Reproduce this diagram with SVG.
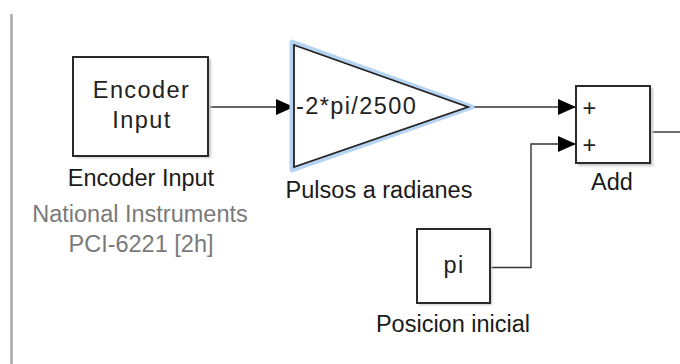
<svg xmlns="http://www.w3.org/2000/svg" width="680" height="364" viewBox="0 0 680 364">
<style>
.lbl{font-family:"Liberation Sans",Arial,sans-serif;font-size:23.5px;fill:#1a1a1a;text-anchor:middle}
.sub{fill:#7a7a7a}
.in{font-family:"Liberation Sans",Arial,sans-serif;font-size:23.5px;fill:#222;letter-spacing:1.4px}
.blk{fill:#fff;stroke:#2a2a2a;stroke-width:2}
.sh{fill:#c8c8c8;stroke:none}
.wire{fill:none;stroke:#333;stroke-width:1.4}
</style>
<defs>
<marker id="ah" markerWidth="18" markerHeight="16" refX="18" refY="8" orient="auto" markerUnits="userSpaceOnUse">
<path d="M0,0 L18,8 L0,16 Z" fill="#000"/>
</marker>
<filter id="blur1"><feGaussianBlur stdDeviation="1"/></filter>
</defs>
<rect x="0" y="0" width="680" height="364" fill="#fff"/>
<g id="frame">
<line x1="11" y1="14" x2="680" y2="14" stroke="#dcdcdc" stroke-width="2.5" filter="url(#blur1)"/>
<line x1="11.5" y1="14" x2="11.5" y2="364" stroke="#a8a8a8" stroke-width="2.5"/>
<line x1="9" y1="16" x2="9" y2="364" stroke="#e6e6e6" stroke-width="2" filter="url(#blur1)"/>
</g>
<g id="connectors">
<line class="wire" x1="208" y1="107" x2="294" y2="107" marker-end="url(#ah)"/>
<line class="wire" x1="469" y1="107" x2="576" y2="107" marker-end="url(#ah)"/>
<polyline class="wire" points="490,267.5 531,267.5 531,144 576,144" stroke="#555" marker-end="url(#ah)"/>
<line class="wire" x1="650" y1="132" x2="680" y2="132"/>
</g>
<g id="encoder">
<rect class="sh" x="75" y="59" width="136" height="99" filter="url(#blur1)"/>
<rect class="blk" x="73" y="57" width="135" height="99"/>
<text class="in" x="141.5" y="98" text-anchor="middle">Encoder</text>
<text class="in" x="142" y="128" text-anchor="middle">Input</text>
<text class="lbl" x="141" y="186">Encoder Input</text>
<text class="lbl sub" x="140" y="222">National Instruments</text>
<text class="lbl sub" x="141" y="252">PCI-6221 [2h]</text>
</g>
<g id="gain">
<polygon points="292,42 472,107 292,170" fill="none" stroke="#b6d4f2" stroke-width="5" stroke-linejoin="round"/>
<polygon points="294,45 468,107 294,167" fill="#fff" stroke="#222" stroke-width="1.8"/>
<text class="in" x="296" y="114">-2*pi/2500</text>
<text class="lbl" x="379" y="198">Pulsos a radianes</text>
</g>
<g id="add">
<rect class="sh" x="578" y="88" width="75" height="78" filter="url(#blur1)"/>
<rect class="blk" x="576" y="86" width="74" height="77"/>
<text class="in" x="590" y="116" text-anchor="middle" font-size="20">+</text>
<text class="in" x="590" y="153" text-anchor="middle" font-size="20">+</text>
<text class="lbl" x="612" y="190">Add</text>
</g>
<g id="pi">
<rect class="sh" x="419" y="231" width="73" height="74" filter="url(#blur1)"/>
<rect class="blk" x="417" y="229" width="73" height="74"/>
<text class="in" x="454" y="273" text-anchor="middle">pi</text>
<text class="lbl" x="453" y="332">Posicion inicial</text>
</g>
</svg>
